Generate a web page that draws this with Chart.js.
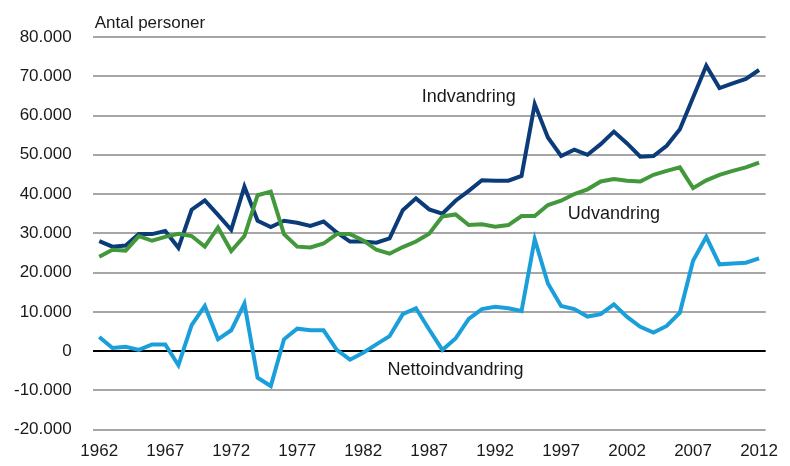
<!DOCTYPE html>
<html>
<head>
<meta charset="utf-8">
<script src="https://cdn.jsdelivr.net/npm/chart.js@4.4.0/dist/chart.umd.min.js"></script>
<style>
  html, body { margin: 0; padding: 0; background: #fff; }
  #wrap { width: 790px; height: 466px; }
</style>
</head>
<body>
<div id="wrap"><canvas id="migChart"></canvas></div>
<script>
const years = [];
for (let y = 1962; y <= 2012; y++) years.push(y);

const indvandring = [
  28000, 26600, 26900, 29800, 29800, 30600, 26300, 36000, 38400, 34700,
  30900, 41900, 33200, 31600, 33200, 32700, 31900, 33000, 30200, 27900,
  27900, 27600, 28700, 35900, 38900, 36100, 35000, 38300, 40800, 43500,
  43400, 43400, 44600, 62900, 54400, 49700, 51300, 50000, 52700, 55900,
  52900, 49500, 49700, 52300, 56500, 64600, 72700, 67000, 68200, 69300,
  71600
];
const udvandring = [
  24000, 25800, 25600, 29300, 28100, 29100, 29900, 29300, 26600, 31500,
  25500, 29300, 39700, 40600, 29800, 26600, 26400, 27400, 29800, 29800,
  28200, 25800, 24800, 26500, 27900, 29900, 34300, 34800, 32100, 32300,
  31700, 32100, 34400, 34400, 37200, 38300, 40000, 41200, 43200, 43800,
  43400, 43200, 44900, 45900, 46800, 41500, 43500, 44900, 45900, 46800,
  48000
];
const nettoindvandring = [
  3600, 800, 1100, 300, 1700, 1700, -3600, 6600, 11500, 3000,
  5300, 12100, -6800, -8900, 3000, 5700, 5300, 5300, 300, -2200,
  -400, 1700, 3800, 9400, 10900, 5500, 300, 3200, 8200, 10700,
  11300, 10900, 10200, 28500, 17200, 11500, 10700, 8800, 9400, 11900,
  8700, 6200, 4700, 6400, 9800, 23000, 29100, 22100, 22300, 22500,
  23600
];
const yTicks = [-20000, -10000, 0, 10000, 20000, 30000, 40000, 50000, 60000, 70000, 80000];

const fontFamily = '"Liberation Sans", Arial, sans-serif';
const textColor = '#1a1a1a';

function fmt(v) {
  const s = Math.abs(v).toString().replace(/\B(?=(\d{3})+(?!\d))/g, '.');
  return (v < 0 ? '-' : '') + s;
}

// Tekster inde i plottet
const labelPlugin = {
  id: 'seriesLabels',
  afterDraw(chart) {
    const { ctx, scales: { x, y }, chartArea } = chart;
    ctx.save();
    ctx.fillStyle = textColor;
    ctx.font = '17px ' + fontFamily;
    ctx.textBaseline = 'alphabetic';
    ctx.textAlign = 'left';
    ctx.fillText('Antal personer', chartArea.left + 2, 28);
    ctx.font = '18px ' + fontFamily;
    ctx.textAlign = 'center';
    ctx.textBaseline = 'middle';
    const put = (txt, yr, val) => ctx.fillText(txt, x.getPixelForValue(years.indexOf(yr)), y.getPixelForValue(val));
    put('Indvandring', 1990, 64800);
    put('Udvandring', 2001, 35000);
    put('Nettoindvandring', 1989, -4800);
    ctx.restore();
  }
};

const ds = (label, data, color) => ({
  label, data,
  borderColor: color,
  backgroundColor: color,
  borderWidth: 4,
  pointRadius: 0,
  tension: 0,
  borderJoinStyle: 'miter'
});

new Chart(document.getElementById('migChart'), {
  type: 'line',
  data: {
    labels: years,
    datasets: [
      ds('Udvandring', udvandring, '#43983b'),
      ds('Nettoindvandring', nettoindvandring, '#1a9fdb'),
      ds('Indvandring', indvandring, '#0b3b78')
    ]
  },
  options: {
    responsive: true,
    maintainAspectRatio: false,
    animation: false,
    layout: { padding: { left: -7, right: 4, top: 37, bottom: -8 } },
    plugins: { legend: { display: false }, tooltip: { enabled: false } },
    scales: {
      x: {
        offset: true,
        grid: { display: false, drawTicks: false },
        border: { display: false },
        ticks: {
          autoSkip: false,
          maxRotation: 0,
          padding: 12,
          color: textColor,
          font: { family: fontFamily, size: 17 },
          callback(v, i) { return (years[i] - 1962) % 5 === 0 ? String(years[i]) : null; }
        }
      },
      y: {
        min: -20000,
        max: 80000,
        afterBuildTicks(axis) { axis.ticks = yTicks.map(v => ({ value: v })); },
        border: { display: false },
        grid: {
          drawTicks: false,
          color: c => c.tick.value === 0 ? '#000000' : '#a6a6a6',
          lineWidth: 2
        },
        ticks: {
          padding: 21,
          color: textColor,
          font: { family: fontFamily, size: 17 },
          callback: v => fmt(v)
        }
      }
    }
  },
  plugins: [labelPlugin]
});
</script>
</body>
</html>
